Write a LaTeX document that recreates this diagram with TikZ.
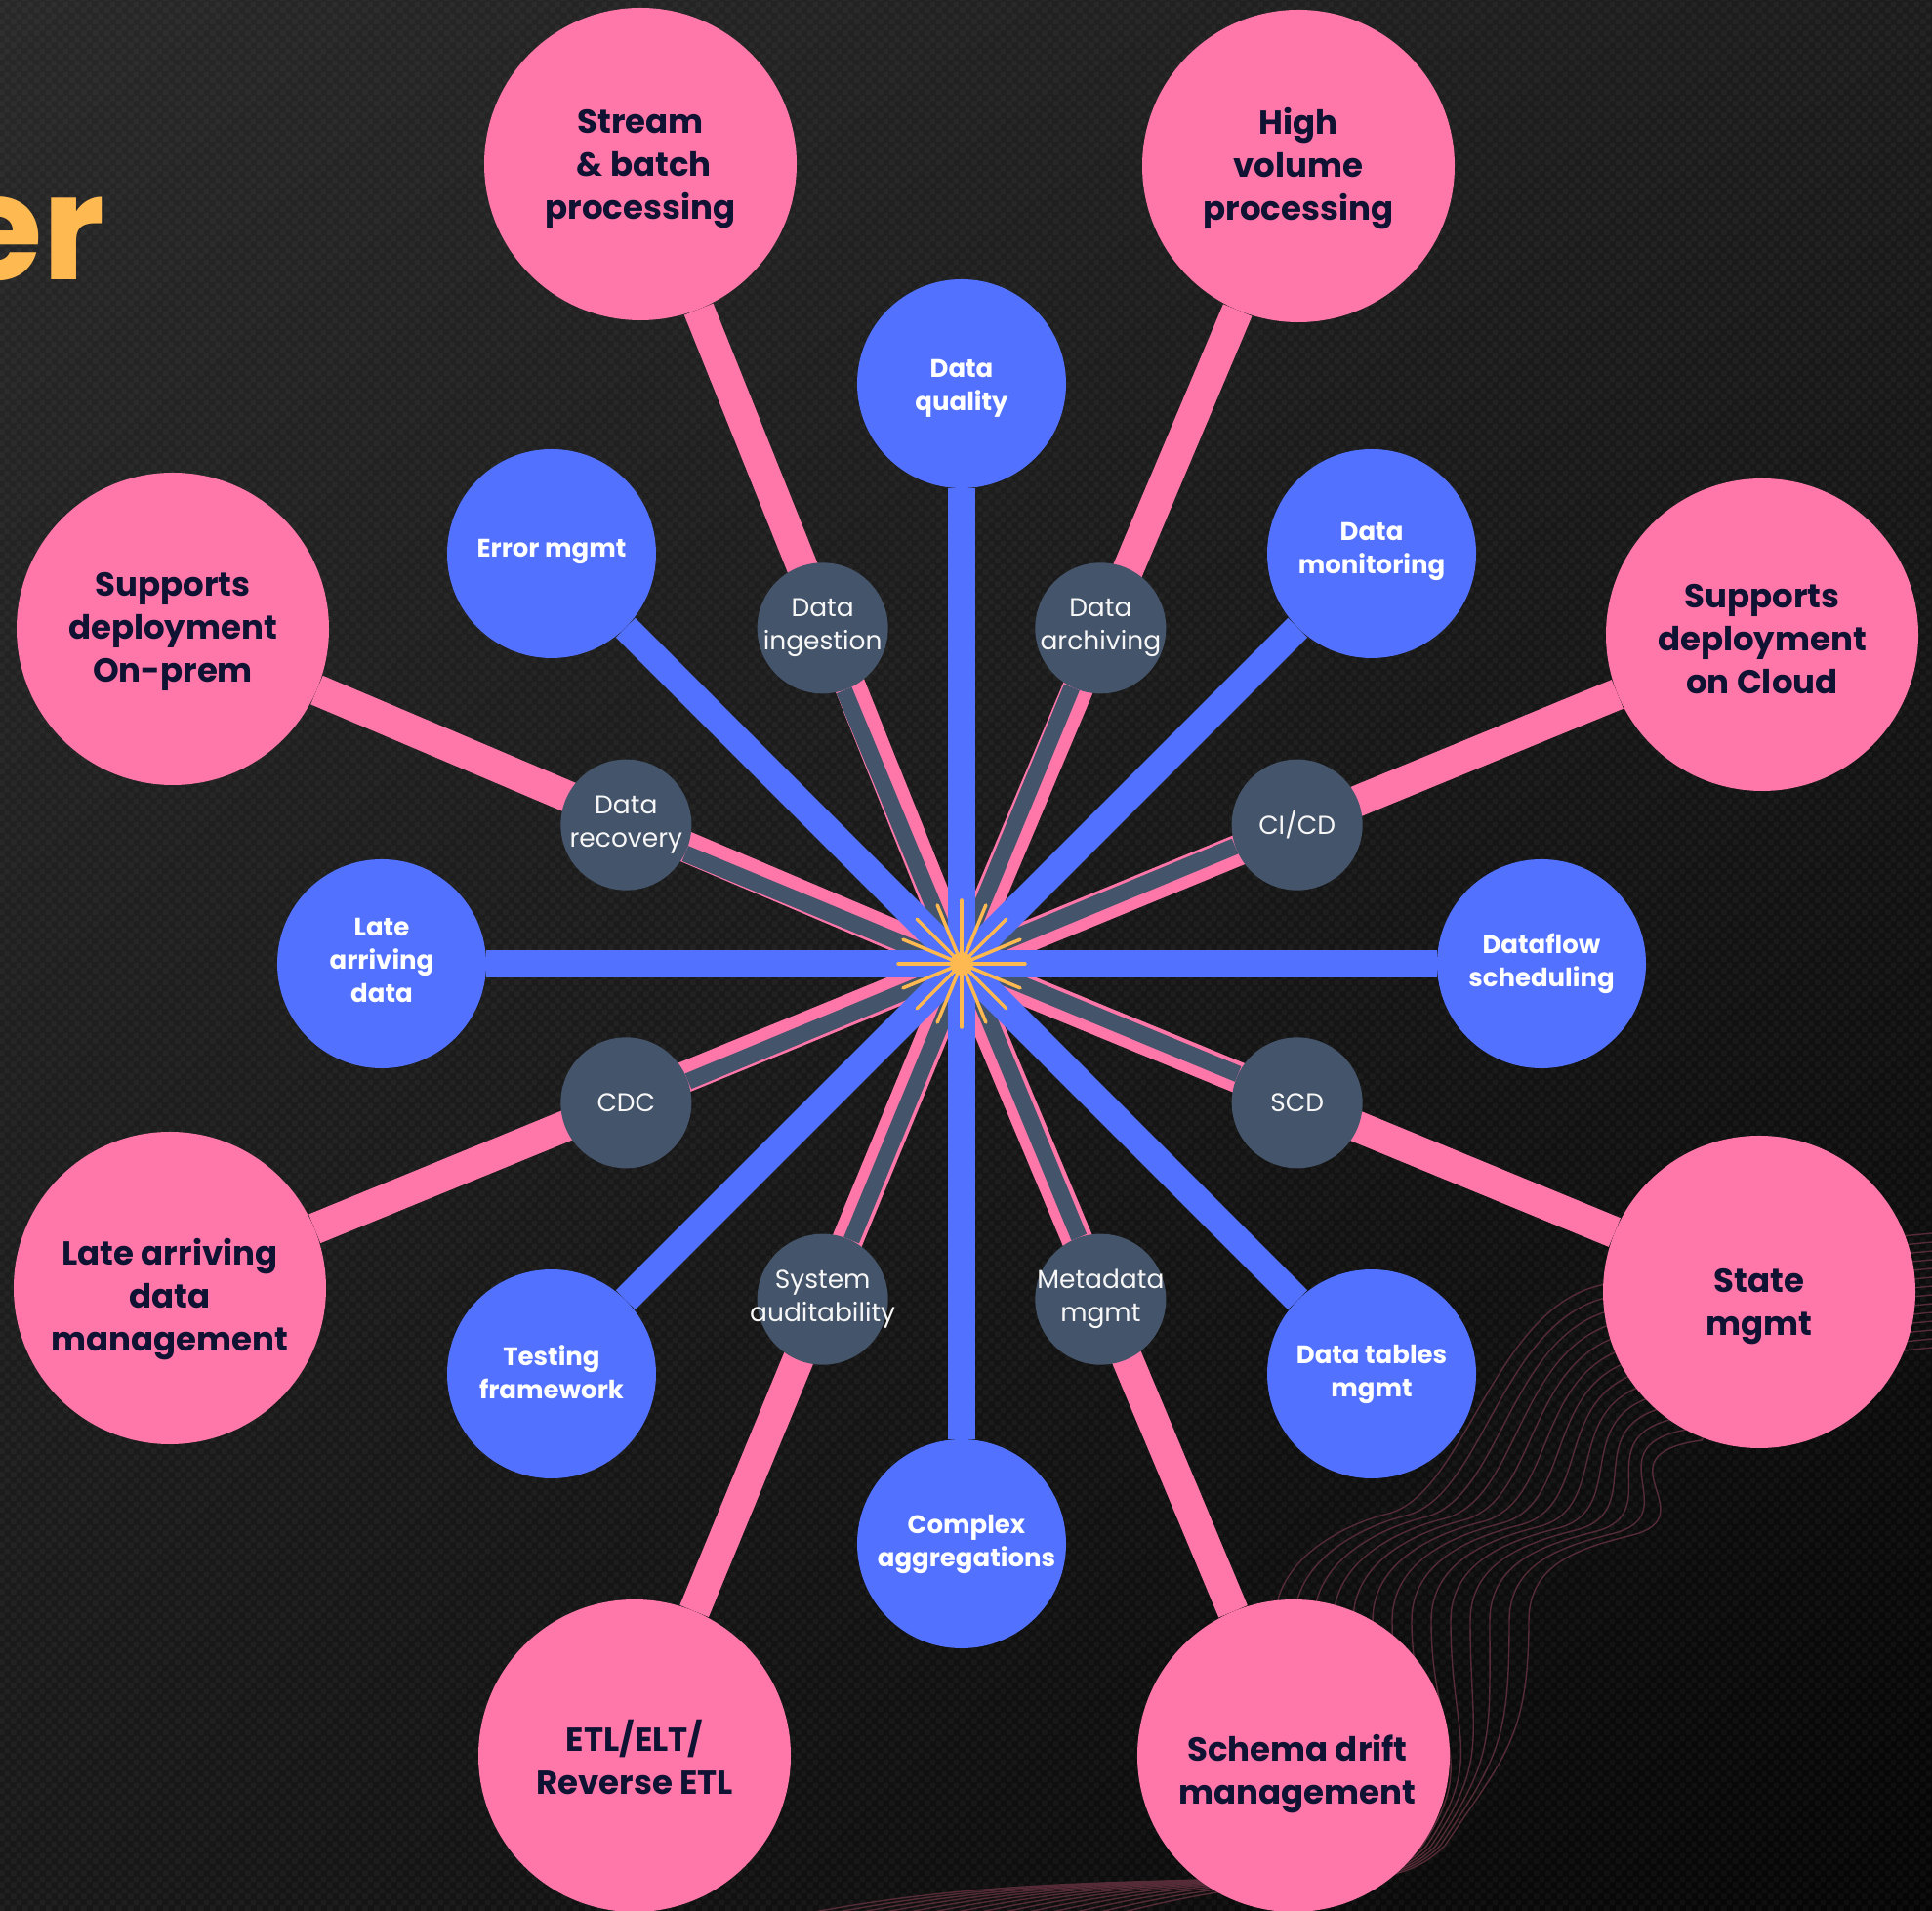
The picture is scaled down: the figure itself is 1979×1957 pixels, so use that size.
\documentclass[tikz,border=0pt]{standalone}
\usepackage{fontspec}
\setmainfont{Poppins}
\usetikzlibrary{calc,shadings,patterns.meta}
\definecolor{pinkc}{HTML}{FF76A9}
\definecolor{bluec}{HTML}{5271FF}
\definecolor{greyc}{HTML}{44546A}
\definecolor{navy}{HTML}{0F1232}
\definecolor{orangec}{HTML}{FFB951}
\definecolor{wavec}{HTML}{552B37}
\definecolor{bgA}{HTML}{282828}
\definecolor{bgB}{HTML}{1C1C1C}
\definecolor{bgC}{HTML}{181818}
\definecolor{bgD}{HTML}{050505}
\pgfdeclarepattern{name=bgchecks, type=uncolored, bottom left={\pgfpoint{0pt}{0pt}}, top right={\pgfpoint{12pt}{12pt}}, tile size={\pgfpoint{12pt}{12pt}},
  code={\pgfpathrectangle{\pgfpoint{0pt}{0pt}}{\pgfpoint{6pt}{6pt}}\pgfpathrectangle{\pgfpoint{6pt}{6pt}}{\pgfpoint{6pt}{6pt}}\pgfusepath{fill}}}
\pgfdeclarelayer{bg}
\pgfdeclarelayer{lines}
\pgfsetlayers{bg,lines,main}
\begin{document}
\begin{tikzpicture}[x=1pt,y=1pt,
  pinknode/.style={circle, fill=pinkc, minimum size=320pt, inner sep=0pt},
  bluenode/.style={circle, fill=bluec, minimum size=214pt, inner sep=0pt},
  greynode/.style={circle, fill=greyc, minimum size=134pt, inner sep=0pt},
  pinktext/.style={text=navy, font=\fontsize{34}{44}\selectfont\bfseries, align=center, inner sep=0pt},
  bluetext/.style={text=white, font=\fontsize{26}{34}\selectfont\bfseries, align=center, inner sep=0pt},
  greytext/.style={text=white!94!gray, font=\fontsize{26.5}{34}\selectfont, align=center, inner sep=0pt},
  pinkline/.style={draw=pinkc, line width=32pt},
  greyline/.style={draw=greyc, line width=17pt},
  blueline/.style={draw=bluec, line width=28pt},
  rayline/.style={draw=orangec, line width=3.5pt, line cap=round},
  wave/.style={draw=wavec, line width=1.4pt},
]
\useasboundingbox (0,0) rectangle (1979,1957);
\begin{pgfonlayer}{bg}
  \shade[upper left=bgA, upper right=bgB, lower left=bgC, lower right=bgD] (0,0) rectangle (1979,1957);
  \fill[pattern={bgchecks}, pattern color=white, fill opacity=0.035] (0,0) rectangle (1979,1957);
  \begin{scope}[shift={(0,1957)}, yscale=-1]
    \foreach \k in {0,...,13}{
      \pgfmathsetmacro\t{\k/13}
      \draw[wave] (1990,{1262+9*\k}) .. controls (1850,{1275+9*\k}) and ({1720+60*\t},{1290+120*\t}) .. ({1640+103*\t},{1316+159*\t})
        .. controls ({1530+103*\t},{1340+150*\t}) and ({1500+250*\t},{1530+22*\t}) .. ({1422+250*\t},{1550+22*\t})
        .. controls ({1370+250*\t},{1563+22*\t}) and ({1306+260*\t},1600) .. ({1306+260*\t},1660)
        .. controls ({1306+260*\t},1780) and ({1480+60*\t},1800) .. ({1420+60*\t},1890)
        .. controls ({1380+40*\t},1950) and ({1100+20*\k},1900) .. ({800+25*\k},1965);
    }
  \end{scope}
\end{pgfonlayer}

\coordinate (ctr) at (985,970);

% title fragment
\node[text=orangec, font=\fontsize{150}{150}\selectfont\bfseries, anchor=base east, inner sep=0pt] (title) at (108,1670) {er};

% outer pink circles (image coordinates converted: y = 1957 - y_img)
\node[pinknode] (p1) at (1805,1307) {};
\node[pinknode] (p2) at (1330,1787) {};
\node[pinknode] (p3) at (656,1789) {};
\node[pinknode] (p4) at (177,1313) {};
\node[pinknode] (p5) at (174,638) {};
\node[pinknode] (p6) at (650,159) {};
\node[pinknode] (p7) at (1325,159) {};
\node[pinknode] (p8) at (1802,634) {};
\foreach \a [count=\i] in {22.5,67.5,112.5,157.5,202.5,247.5,292.5,337.5}{
  \node[greynode] (g\i) at ($(ctr)+(\a:372)$) {};
}
\foreach \a [count=\i] in {0,45,90,135,180,225,270,315}{
  \node[bluenode] (b\i) at ($(ctr)+(\a:594)$) {};
}

% pink texts
\node[pinktext] (p1t) at ($(p1)+(0,-5)$) {Supports\\deployment\\on Cloud};
\node[pinktext] (p2t) at ($(p2)+(0,-3)$) {High\\volume\\processing};
\node[pinktext] (p3t) at ($(p3)+(0,-5)$) {Stream\\\ \& batch\\processing};
\node[pinktext] (p4t) at ($(p4)+(0,-3)$) {Supports\\deployment\\On-prem};
\node[pinktext] (p5t) at ($(p5)+(0,-12)$) {Late arriving\\data\\management};
\node[pinktext] (p6t) at ($(p6)+(0,-1)$) {ETL/ELT/\\Reverse ETL};
\node[pinktext] (p7t) at ($(p7)+(4,-19)$) {Schema drift\\management};
\node[pinktext] (p8t) at ($(p8)+(0,-15)$) {State\\mgmt};

% grey texts
\node[greytext] (g1t) at (g1) {CI/CD};
\node[greytext] (g2t) at (g2) {Data\\archiving};
\node[greytext] (g3t) at (g3) {Data\\ingestion};
\node[greytext] (g4t) at (g4) {Data\\recovery};
\node[greytext] (g5t) at (g5) {CDC};
\node[greytext] (g6t) at (g6) {System\\auditability};
\node[greytext] (g7t) at (g7) {Metadata\\mgmt};
\node[greytext] (g8t) at (g8) {SCD};

% blue texts
\node[bluetext] (b1t) at (b1) {Dataflow\\scheduling};
\node[bluetext] (b2t) at ($(b2)+(0,2)$) {Data\\monitoring};
\node[bluetext] (b3t) at ($(b3)+(0,-5)$) {Data\\quality};
\node[bluetext] (b4t) at ($(b4)+(0,2)$) {Error mgmt};
\node[bluetext] (b5t) at ($(b5)+(0,4)$) {Late\\arriving\\data};
\node[bluetext] (b6t) at ($(b6)+(0,2)$) {Testing\\framework};
\node[bluetext] (b7t) at ($(b7)+(5,0)$) {Complex\\aggregations};
\node[bluetext] (b8t) at (b8) {Data tables\\mgmt};

\begin{pgfonlayer}{lines}
  \foreach \i in {1,...,8}{
    \draw[pinkline] (p\i) -- (ctr);
  }
  \foreach \a [count=\i] in {22.5,67.5,112.5,157.5,202.5,247.5,292.5,337.5}{
    \pgfmathsetmacro\b{\a+90}
    \draw[greyline, transform canvas={shift={(\b:4)}}] (g\i) -- (ctr);
  }
  \foreach \i in {1,...,8}{
    \draw[blueline] (b\i) -- (ctr);
  }
  \foreach \a in {0,22.5,...,157.5}{
    \draw[rayline] ($(ctr)+(\a:65)$) -- ($(ctr)+(\a+180:65)$);
  }
  \fill[orangec] (ctr) circle (12);
\end{pgfonlayer}
\end{tikzpicture}
\end{document}
